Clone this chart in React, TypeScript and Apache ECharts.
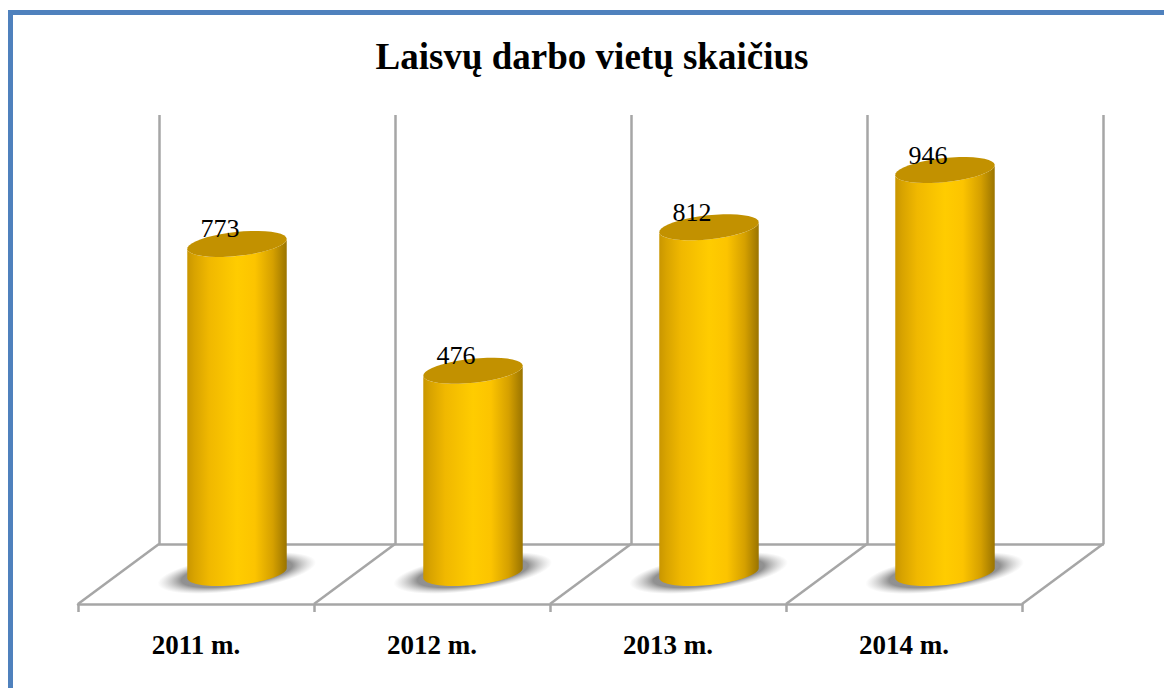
import React, { useEffect, useRef } from "react";
import * as echarts from "echarts";

const titleText = "Laisvų darbo vietų skaičius";
const categories = ["2011 m.", "2012 m.", "2013 m.", "2014 m."];
const values = [773, 476, 812, 946];

const SERIF = '"Liberation Serif", "Times New Roman", serif';
const WALL = "#a6a6a6";

const FRONT_XS = [78, 314, 550, 786, 1022];
const DEPTH_X = 81;
const FRONT_Y = 604;
const BACK_Y = 544;

const RX = 50;
const RY = 12;
const TILT = (6 * Math.PI) / 180;

// A point of the tilted ellipse, t = 0 is the right end, t = PI/2 the front (lower) side.
function rim(cx: number, cy: number, t: number): [number, number] {
  const ex = RX * Math.cos(t);
  const ey = RY * Math.sin(t);
  return [
    cx + ex * Math.cos(TILT) + ey * Math.sin(TILT),
    cy - ex * Math.sin(TILT) + ey * Math.cos(TILT),
  ];
}

function arcPts(cx: number, cy: number, from: number, to: number) {
  const out: string[] = [];
  const steps = 40;
  for (let i = 0; i <= steps; i++) {
    const p = rim(cx, cy, from + ((to - from) * i) / steps);
    out.push(`${p[0].toFixed(2)} ${p[1].toFixed(2)}`);
  }
  return out;
}

function renderCylinder(_params: any, api: any) {
  const idx = api.value(0);
  const val = api.value(1);
  const top = api.coord([idx, val]);
  const base = api.coord([idx, 0]);
  const cx = top[0];
  const topFront = arcPts(cx, top[1], 0, Math.PI); // right to left along the front
  const baseFront = arcPts(cx, base[1] - 1, Math.PI, 0); // left to right along the front
  const body = "M " + [...topFront, ...baseFront].join(" L ") + " Z";
  const lid =
    "M " + arcPts(cx, top[1], 0, Math.PI * 2).join(" L ") + " Z";
  return {
    type: "group",
    children: [
      {
        type: "ellipse",
        shape: { cx, cy: base[1] - 1, rx: 80, ry: 18 },
        rotation: (8 * Math.PI) / 180,
        originX: cx,
        originY: base[1] - 1,
        style: {
          fill: {
            type: "radial",
            x: 0.5,
            y: 0.5,
            r: 0.5,
            colorStops: [
              { offset: 0, color: "rgba(140,140,140,1)" },
              { offset: 0.7, color: "rgba(145,145,145,1)" },
              { offset: 1, color: "rgba(190,190,190,0)" },
            ],
          },
        },
      },
      {
        type: "path",
        shape: { pathData: body },
        style: {
          fill: {
            type: "linear",
            x: 0,
            y: 0,
            x2: 1,
            y2: 0,
            colorStops: [
              { offset: 0, color: "#c99600" },
              { offset: 0.07, color: "#d8a300" },
              { offset: 0.22, color: "#f0b800" },
              { offset: 0.5, color: "#ffcc00" },
              { offset: 0.68, color: "#fcc400" },
              { offset: 0.86, color: "#d5a000" },
              { offset: 1, color: "#9a7400" },
            ],
          },
        },
      },
      {
        type: "path",
        shape: { pathData: lid },
        style: { fill: "#c29100" },
      },
      {
        type: "text",
        style: {
          text: String(val),
          x: cx - 17,
          y: top[1] - 15,
          fill: "#000",
          font: `26px ${SERIF}`,
          align: "center",
          verticalAlign: "middle",
        },
      },
    ],
  };
}

export default function App() {
  const ref = useRef<HTMLDivElement>(null);
  useEffect(() => {
    const chart = echarts.init(ref.current!, undefined, { renderer: "svg" });
    const hiddenY = (gridIndex: number) => ({
      type: "value",
      gridIndex,
      min: 0,
      max: 1000,
      show: false,
    });
    chart.setOption({
      animation: false,
      backgroundColor: "#ffffff",
      title: {
        text: titleText,
        left: 587,
        top: 33,
        textAlign: "center",
        textStyle: {
          fontFamily: SERIF,
          fontWeight: "bold",
          fontSize: 37,
          color: "#000",
        },
      },
      grid: [
        { left: 119, width: 944, top: 147, bottom: 114 },
        { left: 159, width: 944, top: 115, height: BACK_Y - 115 },
        { left: 78, width: 944, top: 400, height: FRONT_Y - 400 },
      ],
      xAxis: [
        { type: "category", gridIndex: 0, data: categories, show: false },
        {
          type: "category",
          gridIndex: 1,
          data: categories,
          axisLine: { show: true, lineStyle: { color: WALL, width: 2.5 } },
          axisTick: { show: false },
          axisLabel: { show: false },
          splitLine: {
            show: true,
            interval: 0,
            lineStyle: { color: WALL, width: 2.5 },
          },
        },
        {
          type: "category",
          gridIndex: 2,
          data: categories,
          axisLine: { show: true, lineStyle: { color: WALL, width: 2.5 } },
          axisTick: {
            show: true,
            interval: 0,
            length: 8,
            lineStyle: { color: WALL, width: 2.5 },
          },
          axisLabel: {
            show: true,
            interval: 0,
            margin: 27,
            fontFamily: SERIF,
            fontWeight: "bold",
            fontSize: 27,
            color: "#000",
          },
        },
      ],
      yAxis: [hiddenY(0), hiddenY(1), hiddenY(2)],
      series: [
        {
          type: "custom",
          xAxisIndex: 0,
          yAxisIndex: 0,
          clip: false,
          renderItem: renderCylinder,
          encode: { x: 0, y: 1 },
          data: values.map((v, i) => [i, v]),
          z: 5,
        },
      ],
      graphic: [
        ...FRONT_XS.map((x) => ({
          type: "line",
          z: 1,
          shape: { x1: x, y1: FRONT_Y, x2: x + DEPTH_X, y2: BACK_Y },
          style: { stroke: WALL, lineWidth: 2.5 },
        })),
        {
          type: "rect",
          z: 20,
          shape: { x: 8, y: 10, width: 1156, height: 5 },
          style: { fill: "#4f81bd" },
        },
        {
          type: "rect",
          z: 20,
          shape: { x: 8, y: 10, width: 5, height: 678 },
          style: { fill: "#4f81bd" },
        },
      ],
    });
    return () => chart.dispose();
  }, []);
  return (
    <div
      ref={ref}
      style={{ position: "fixed", left: 0, top: 0, width: 1164, height: 688 }}
    />
  );
}
